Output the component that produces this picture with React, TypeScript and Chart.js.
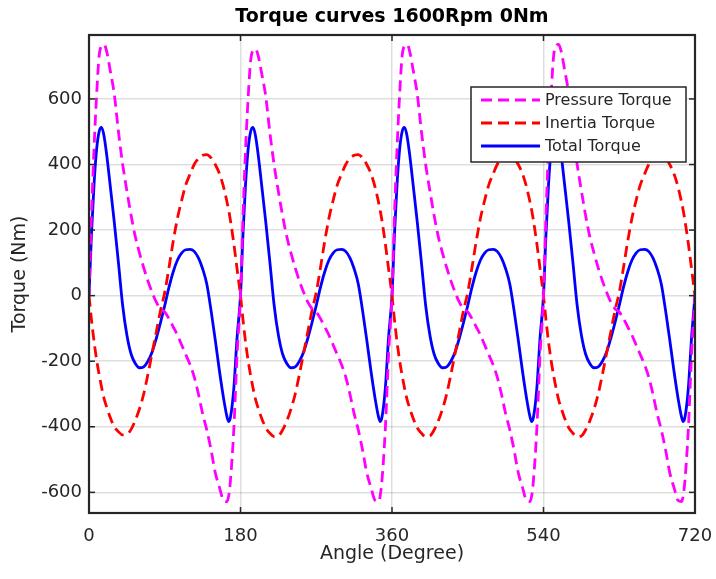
import React, { useEffect, useRef } from "react";
import { Chart, registerables } from "chart.js";

Chart.register(...registerables);

// Crank angle (degrees)
const angles = [
  0, 3, 6, 9, 12, 15, 18, 21, 25, 30, 35, 40, 45, 50, 55, 60, 65, 70, 75, 80, 85, 90, 95, 100, 105, 110, 115, 120, 125, 130, 135, 140, 145, 150, 155, 160, 164, 166, 168, 172, 176,
  180, 183, 186, 189, 192, 195, 198, 201, 205, 210, 215, 220, 225, 230, 235, 240, 245, 250, 255, 260, 265, 270, 275, 280, 285, 290, 295, 300, 305, 310, 315, 320, 325, 330, 335, 340, 344, 346, 348, 352, 356,
  360, 363, 366, 369, 372, 375, 378, 381, 385, 390, 395, 400, 405, 410, 415, 420, 425, 430, 435, 440, 445, 450, 455, 460, 465, 470, 475, 480, 485, 490, 495, 500, 505, 510, 515, 520, 524, 526, 528, 532, 536,
  540, 543, 546, 549, 552, 555, 558, 561, 565, 570, 575, 580, 585, 590, 595, 600, 605, 610, 615, 620, 625, 630, 635, 640, 645, 650, 655, 660, 665, 670, 675, 680, 685, 690, 695, 700, 704, 706, 708, 712, 716,
  720,
];

// Pressure torque (Nm)
const pressureTorque = [
  0, 250, 450, 610, 730, 762, 766, 745, 690, 615, 500, 400, 320, 245, 180, 130, 85, 45, 10, -20, -40, -50, -70, -95, -120, -150, -180, -210, -248, -300, -360, -410, -470, -540, -585, -625, -628, -610, -565, -410, -175,
  0, 245, 445, 600, 715, 748, 752, 732, 680, 608, 495, 398, 318, 244, 180, 130, 85, 45, 10, -20, -40, -50, -70, -95, -120, -150, -180, -210, -248, -300, -360, -410, -470, -540, -585, -625, -628, -610, -565, -410, -175,
  0, 250, 450, 610, 730, 762, 766, 745, 690, 615, 500, 400, 320, 245, 180, 130, 85, 45, 10, -20, -40, -50, -70, -95, -120, -150, -180, -210, -248, -300, -360, -410, -470, -540, -585, -625, -628, -610, -565, -410, -175,
  0, 250, 450, 610, 730, 762, 766, 745, 690, 615, 500, 400, 320, 245, 180, 130, 85, 45, 10, -20, -40, -50, -70, -95, -120, -150, -180, -210, -248, -300, -360, -410, -470, -540, -585, -625, -628, -610, -565, -410, -175,
  0,
];

// Inertia torque (Nm)
const inertiaTorque = [
  0, -75, -140, -195, -240, -280, -315, -340, -370, -400, -415, -425, -423, -408, -380, -345, -300, -240, -175, -110, -45, 10, 85, 165, 235, 290, 338, 370, 400, 418, 428, 430, 420, 400, 372, 330, 285, 260, 230, 160, 80,
  0, -75, -142, -197, -243, -283, -318, -343, -373, -403, -420, -430, -428, -410, -382, -346, -300, -240, -175, -110, -45, 10, 85, 165, 235, 290, 338, 370, 400, 418, 428, 430, 420, 400, 372, 330, 285, 260, 230, 160, 80,
  0, -75, -142, -197, -243, -283, -318, -343, -373, -403, -420, -430, -428, -410, -382, -346, -300, -240, -175, -110, -45, 10, 85, 165, 235, 290, 338, 370, 400, 418, 428, 430, 420, 400, 372, 330, 285, 260, 230, 160, 80,
  0, -75, -142, -197, -243, -283, -318, -343, -373, -403, -420, -430, -428, -410, -382, -346, -300, -240, -175, -110, -45, 10, 85, 165, 235, 290, 338, 370, 400, 418, 428, 430, 420, 400, 372, 330, 285, 260, 230, 160, 80,
  0,
];

// Total torque (Nm)
const totalTorque = [
  0, 190, 340, 445, 500, 513, 485, 430, 340, 225, 100, -30, -120, -178, -207, -220, -217, -200, -172, -130, -82, -30, 25, 72, 108, 130, 140, 141, 135, 115, 82, 35, -45, -135, -230, -315, -370, -384, -372, -285, -125,
  0, 190, 340, 445, 500, 513, 485, 430, 340, 225, 100, -30, -120, -178, -207, -220, -217, -200, -172, -130, -82, -30, 25, 72, 108, 130, 140, 141, 135, 115, 82, 35, -45, -135, -230, -315, -370, -384, -372, -285, -125,
  0, 190, 340, 445, 500, 513, 485, 430, 340, 225, 100, -30, -120, -178, -207, -220, -217, -200, -172, -130, -82, -30, 25, 72, 108, 130, 140, 141, 135, 115, 82, 35, -45, -135, -230, -315, -370, -384, -372, -285, -125,
  0, 190, 340, 445, 500, 513, 485, 430, 340, 225, 100, -30, -120, -178, -207, -220, -217, -200, -172, -130, -82, -30, 25, 72, 108, 130, 140, 141, 135, 115, 82, 35, -45, -135, -230, -315, -370, -384, -372, -285, -125,
  0,
];

const xTicks = [0, 180, 360, 540, 720];
const yTicks = [-600, -400, -200, 0, 200, 400, 600];
const seriesLabels = ["Pressure Torque", "Inertia Torque", "Total Torque"];
const seriesColors = ["#ff00ff", "#ff0000", "#0000ff"];
const seriesDashes = [[11, 6], [11, 6], []];
const titleText = "Torque curves 1600Rpm 0Nm";
const xTitle = "Angle (Degree)";
const yTitle = "Torque (Nm)";

const FONT = "'DejaVu Sans', 'Liberation Sans', Arial, sans-serif";
const TEXT = "#262626";

const framePlugin = {
  id: "matlabFrame",
  afterDatasetsDraw(chart: any) {
    const { ctx, chartArea, scales } = chart;
    const { left, right, top, bottom } = chartArea;
    const x = scales.x;
    const y = scales.y;
    ctx.save();
    ctx.strokeStyle = TEXT;
    ctx.setLineDash([]);
    ctx.lineWidth = 1.5;
    const seg = (x1: number, y1: number, x2: number, y2: number) => {
      ctx.beginPath();
      ctx.moveTo(x1, y1);
      ctx.lineTo(x2, y2);
      ctx.stroke();
    };
    xTicks.forEach((v) => {
      const px = x.getPixelForValue(v);
      seg(px, bottom, px, bottom - 6);
      seg(px, top, px, top + 6);
    });
    yTicks.forEach((v) => {
      const py = y.getPixelForValue(v);
      seg(left, py, left + 6, py);
      seg(right, py, right - 6, py);
    });
    ctx.lineWidth = 2.2;
    ctx.strokeRect(left, top, right - left, bottom - top);

    // Legend box inside the axes (upper right)
    const bx = right - 224;
    const by = top + 52;
    const bw = 215;
    const bh = 75;
    ctx.fillStyle = "#ffffff";
    ctx.fillRect(bx, by, bw, bh);
    ctx.lineWidth = 1.5;
    ctx.strokeStyle = TEXT;
    ctx.strokeRect(bx, by, bw, bh);
    ctx.font = `16px ${FONT}`;
    ctx.textBaseline = "middle";
    ctx.textAlign = "left";
    seriesLabels.forEach((label, i) => {
      const ry = by + 13 + i * 23;
      ctx.strokeStyle = seriesColors[i];
      ctx.lineWidth = 2.8;
      ctx.setLineDash(seriesDashes[i]);
      seg(bx + 10, ry, bx + 69, ry);
      ctx.setLineDash([]);
      ctx.fillStyle = TEXT;
      ctx.fillText(label, bx + 74, ry + 1);
    });
    ctx.restore();
  },
};

export default function App() {
  const canvasRef = useRef<HTMLCanvasElement | null>(null);

  useEffect(() => {
    if (!canvasRef.current) return;
    const makePoints = (vals: number[]) => angles.map((a, i) => ({ x: a, y: vals[i] }));
    const series = [pressureTorque, inertiaTorque, totalTorque];
    const chart = new Chart(canvasRef.current, {
      type: "line",
      data: {
        datasets: series.map((vals, i) => ({
          label: seriesLabels[i],
          data: makePoints(vals),
          borderColor: seriesColors[i],
          backgroundColor: seriesColors[i],
          borderWidth: 2.8,
          borderDash: seriesDashes[i],
          pointRadius: 0,
          fill: false,
          cubicInterpolationMode: "monotone" as const,
        })),
      },
      options: {
        animation: false,
        responsive: true,
        maintainAspectRatio: false,
        layout: { padding: { left: 0, right: 21, top: 0, bottom: 0 } },
        plugins: {
          legend: { display: false },
          tooltip: { enabled: false },
          title: {
            display: true,
            text: titleText,
            fullSize: false,
            color: "#000000",
            font: { family: FONT, size: 19, weight: "bold" },
            padding: { top: 5.6, bottom: 6.6 },
          },
        },
        scales: {
          x: {
            type: "linear",
            min: 0,
            max: 720,
            afterBuildTicks: (s: any) => {
              s.ticks = xTicks.map((v) => ({ value: v }));
            },
            afterFit: (s: any) => {
              s.height = 66;
              s.paddingLeft = 0;
              s.paddingRight = 0;
            },
            ticks: {
              color: TEXT,
              font: { family: FONT, size: 18 },
              padding: 13,
              maxRotation: 0,
              autoSkip: false,
              includeBounds: false,
            },
            grid: { color: "rgba(0,0,0,0.13)", lineWidth: 1.5, drawTicks: false },
            border: { display: false },
            title: {
              display: true,
              text: xTitle,
              color: TEXT,
              font: { family: FONT, size: 19 },
              padding: { top: 0, bottom: 14 },
            },
          },
          y: {
            type: "linear",
            min: -663,
            max: 795,
            afterBuildTicks: (s: any) => {
              s.ticks = yTicks.map((v) => ({ value: v }));
            },
            afterFit: (s: any) => {
              s.width = 89;
              s.paddingTop = 0;
              s.paddingBottom = 0;
            },
            ticks: {
              color: TEXT,
              font: { family: FONT, size: 18 },
              padding: 7,
              autoSkip: false,
              includeBounds: false,
            },
            grid: { color: "rgba(0,0,0,0.13)", lineWidth: 1.5, drawTicks: false },
            border: { display: false },
            title: {
              display: true,
              text: yTitle,
              color: TEXT,
              font: { family: FONT, size: 19 },
              padding: { top: 9, bottom: 0 },
            },
          },
        },
      },
      plugins: [framePlugin],
    });
    return () => chart.destroy();
  }, []);

  return (
    <div style={{ position: "absolute", left: 0, top: 0, width: 716, height: 579, background: "#ffffff" }}>
      <canvas ref={canvasRef} />
    </div>
  );
}
